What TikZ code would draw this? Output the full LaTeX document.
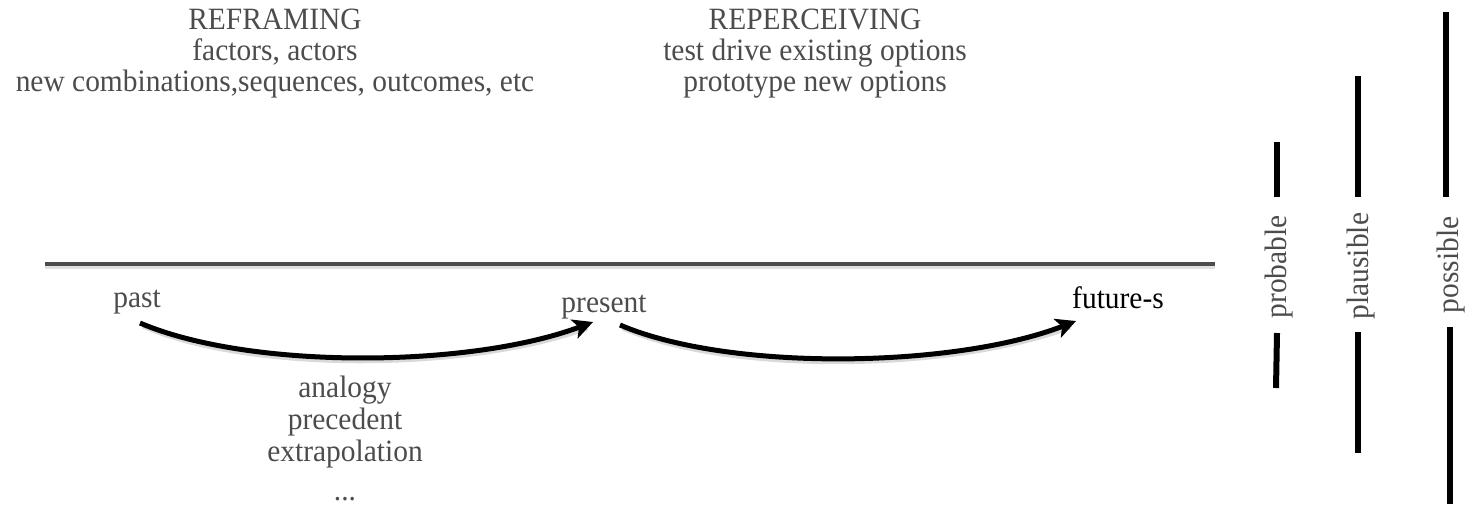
\documentclass[tikz,border=0pt]{standalone}
\usepackage{fontspec}
\setmainfont{Liberation Serif}[FakeStretch=0.95]
\usetikzlibrary{arrows.meta}
\begin{document}
\begin{tikzpicture}[x=1pt,y=-1pt,
  txt/.style={text=black!70, font=\fontsize{31}{31}\selectfont, align=center, inner sep=0pt},
  lowtxt/.style={txt, font=\fontsize{31}{32}\selectfont},
  bar/.style={line width=6pt, black},
  arc/.style={line width=5pt, black, -{Stealth[length=20pt,width=20pt,inset=5pt]}},
  arcshadow/.style={line width=5pt, black!15},
  tline/.style={line width=4.5pt, black!70},
]
\useasboundingbox (0,0) rectangle (1479,504);
% headings
\node[txt] (refr) at (275,54) {REFRAMING\\factors, actors\\new combinations,sequences, outcomes, etc};
\node[txt] (reperc) at (815,54) {REPERCEIVING\\test drive existing options\\prototype new options};
% timeline
\coordinate (tl0) at (45,264);
\coordinate (tl1) at (1215,264);
\draw[line width=4pt, black!12] ([yshift=-3pt]tl0) -- ([yshift=-3pt]tl1);
\draw[tline] (tl0) -- (tl1);
% time labels
\node[txt, anchor=base] (past) at (137,307) {past};
\node[txt, anchor=base] (present) at (604,312) {present};
\node[txt, anchor=base, text=black] (future) at (1118,308) {future-s};
% arrows
\coordinate (a1s) at (140,323);
\coordinate (a1e) at (593,322);
\coordinate (a2s) at (620,325);
\coordinate (a2e) at (1076,321);
\draw[arcshadow] ([shift={(3pt,-3pt)}]a1s) .. controls (250,373) and (470,371) .. ([shift={(-6pt,-6pt)}]a1e);
\draw[arcshadow] ([shift={(3pt,-3pt)}]a2s) .. controls (730,375) and (955,371) .. ([shift={(-6pt,-6pt)}]a2e);
\draw[arc] (a1s) .. controls (250,370) and (470,368) .. (a1e);
\draw[arc] (a2s) .. controls (730,372) and (955,368) .. (a2e);
% bottom text
\node[lowtxt] (anal) at (345,422) {analogy\\precedent\\extrapolation};
\node[txt, anchor=base] (dots) at (345,500) {...};
% right side
\node[txt, rotate=90] (prob) at (1279,267) {probable};
\node[txt, rotate=90] (plaus) at (1361,266) {plausible};
\node[txt, rotate=90] (poss) at (1451,265) {possible};
\draw[bar] (1277,142) -- (1277,197);
\draw[bar] (1277,333) -- (1276,388);
\draw[bar] (1358,76) -- (1358,197);
\draw[bar] (1358,332) -- (1358,453);
\draw[bar] (1446,12) -- (1446,197);
\draw[bar] (1450,327) -- (1450,504);
\end{tikzpicture}
\end{document}
